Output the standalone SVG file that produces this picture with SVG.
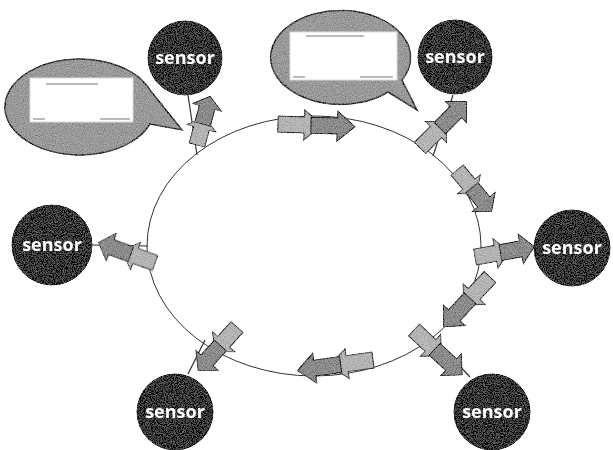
<svg xmlns="http://www.w3.org/2000/svg" xmlns:xlink="http://www.w3.org/1999/xlink" width="613" height="450" viewBox="0 0 613 450">
<style>
.ring{fill:none;stroke:#333;stroke-width:1}
.link{stroke:#333;stroke-width:1.2;fill:none}
.sensor{fill:#3a3a3a;stroke:#222;stroke-width:1}
.lbl{font-family:"Open Sans","DejaVu Sans",sans-serif;font-weight:bold;font-size:18px;fill:#fff;text-anchor:middle}
.bub{fill:#9a9a9a;stroke:#444;stroke-width:1.5}
.box{fill:#fff;stroke:#ddd;stroke-width:1}
.dash{stroke:#777;stroke-width:1}
.arA{fill:#b4b4b4;stroke:#444;stroke-width:1}
.arB{fill:#8c8c8c;stroke:#333;stroke-width:1}
</style>
<defs>
<filter id="grain" x="-10%" y="-10%" width="120%" height="120%">
<feTurbulence type="fractalNoise" baseFrequency="0.9" numOctaves="3" seed="4" result="t"/>
<feColorMatrix in="t" type="matrix" values="0.33 0.33 0.33 0 0 0.33 0.33 0.33 0 0 0.33 0.33 0.33 0 0 0 0 0 0 1" result="g"/>
<feComposite in="SourceGraphic" in2="g" operator="arithmetic" k1="0" k2="1" k3="0.7" k4="-0.35" result="m"/>
<feComposite in="m" in2="SourceAlpha" operator="in"/>
</filter>
<g id="dbl">
<path class="arA" d="M0,-8 L24,-8 L24,-15 L40,0 L24,15 L24,8 L0,8 Z"/>
<path class="arB" d="M30,-8 L54,-8 L54,-15 L70,0 L54,15 L54,8 L30,8 Z"/>
</g>
</defs>

<g id="connectors">
<ellipse class="ring" cx="314" cy="246" rx="167" ry="130"/>
<line class="link" x1="188" y1="95" x2="197" y2="155"/>
<line class="link" x1="453" y1="95" x2="433" y2="156"/>
<line class="link" x1="92" y1="245" x2="148" y2="246"/>
<line class="link" x1="481" y1="248" x2="534" y2="248"/>
<line class="link" x1="205" y1="340" x2="188" y2="374"/>
<line class="link" x1="435" y1="340" x2="470" y2="377"/>
<g filter="url(#grain)">
<use xlink:href="#dbl" transform="translate(278,124) rotate(2) scale(1.1,1)"/>
<use xlink:href="#dbl" transform="translate(197,145) rotate(-75) scale(0.72,1)"/>
<use xlink:href="#dbl" transform="translate(420,148) rotate(-45) scale(0.94,1)"/>
<use xlink:href="#dbl" transform="translate(457,170) rotate(50) scale(0.77,1)"/>
<use xlink:href="#dbl" transform="translate(475,257) rotate(-10) scale(0.86,1)"/>
<use xlink:href="#dbl" transform="translate(490,277) rotate(133) scale(0.97,1)"/>
<use xlink:href="#dbl" transform="translate(414,330) rotate(43) scale(0.94,1)"/>
<use xlink:href="#dbl" transform="translate(373,360) rotate(172) scale(1.09,1)"/>
<use xlink:href="#dbl" transform="translate(237,327) rotate(132) scale(0.83,1)"/>
<use xlink:href="#dbl" transform="translate(155,263) rotate(200) scale(0.86,1)"/>
</g>
</g>

<g id="bubble-left">
<path class="bub" filter="url(#grain)" d="M150,90 A75,48 0 1 0 150,124 L182,130 Z"/>
<rect class="box" x="30" y="78" width="103" height="44"/>
<line class="dash" x1="46" y1="84" x2="98" y2="84"/>
<line class="dash" x1="33" y1="119" x2="45" y2="119"/>
<line class="dash" x1="100" y1="119" x2="130" y2="119"/>
</g>

<g id="bubble-top">
<path class="bub" filter="url(#grain)" d="M402,80 A70,47 0 1 0 388,92 L417,110 Z"/>
<rect class="box" x="290" y="32" width="107" height="48"/>
<line class="dash" x1="306" y1="36" x2="364" y2="36"/>
<line class="dash" x1="293" y1="77" x2="305" y2="77"/>
<line class="dash" x1="360" y1="77" x2="393" y2="77"/>
</g>

<g id="sensor-tl"><circle class="sensor" filter="url(#grain)" cx="185" cy="58" r="37"/><text class="lbl" x="185" y="64">sensor</text></g>
<g id="sensor-tr"><circle class="sensor" filter="url(#grain)" cx="455" cy="57" r="37"/><text class="lbl" x="455" y="63">sensor</text></g>
<g id="sensor-l"><circle class="sensor" filter="url(#grain)" cx="52" cy="245" r="40"/><text class="lbl" x="52" y="251">sensor</text></g>
<g id="sensor-r"><circle class="sensor" filter="url(#grain)" cx="572" cy="248" r="38"/><text class="lbl" x="572" y="254">sensor</text></g>
<g id="sensor-bl"><circle class="sensor" filter="url(#grain)" cx="175" cy="412" r="38"/><text class="lbl" x="175" y="418">sensor</text></g>
<g id="sensor-br"><circle class="sensor" filter="url(#grain)" cx="492" cy="412" r="38"/><text class="lbl" x="492" y="418">sensor</text></g>
</svg>
